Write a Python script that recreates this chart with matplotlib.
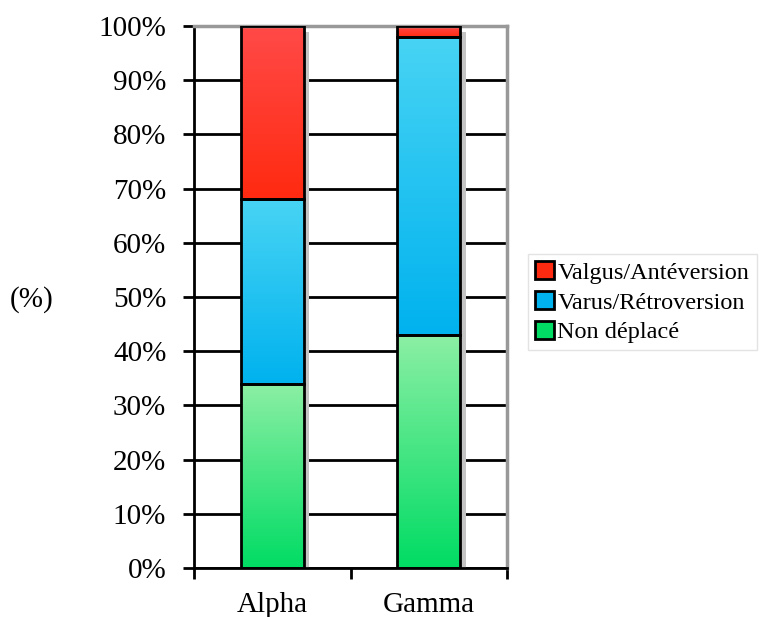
import numpy as np
import matplotlib
matplotlib.use("Agg")
import matplotlib.pyplot as plt
from matplotlib.patches import Patch

plt.rcParams['font.family'] = ['Liberation Serif', 'DejaVu Serif']

categories = ['Alpha', 'Gamma']
non_deplace = [34, 43]
varus = [34, 55]
valgus = [32, 2]

series = [
    ('Non déplacé', non_deplace, '#8CEFA4', '#00DC64'),
    ('Varus/Rétroversion', varus, '#48D4F4', '#00B2EE'),
    ('Valgus/Antéversion', valgus, '#FF4A48', '#FF2A10'),
]

fig = plt.figure(figsize=(7.6, 6.17), dpi=100)
ax = fig.add_axes([0.2553, 0.0794, 0.4118, 0.8785])

x = np.arange(len(categories))
width = 0.4

# ombres des barres (decalees a droite)
totals = np.sum([s[1] for s in series], axis=0)
ax.bar(x + 0.035, totals - 1.2, width, bottom=0, color='#c4c4c4', zorder=1.5)

bottom = np.zeros(len(categories))
for name, vals, c_top, c_bot in series:
    grad = np.linspace(0, 1, 256).reshape(-1, 1)
    cmap = matplotlib.colors.LinearSegmentedColormap.from_list(name, [c_bot, c_top])
    bars = ax.bar(x, vals, width, bottom=bottom, facecolor='none',
                  edgecolor='black', linewidth=2, zorder=3)
    for b in bars:
        x0, y0 = b.get_x(), b.get_y()
        im = ax.imshow(grad, cmap=cmap, origin='lower', aspect='auto',
                       extent=[x0, x0 + b.get_width(), y0, y0 + b.get_height()],
                       zorder=2)
        im.set_clip_path(b)
    bottom += np.array(vals)

ax.set_xlim(-0.5, len(categories) - 0.5)
ax.set_ylim(0, 100)

ax.set_yticks(np.arange(0, 101, 10))
ax.set_yticklabels([f'{v}%' for v in range(0, 101, 10)], fontsize=21)
ax.yaxis.grid(True, color='black', linewidth=2)
ax.set_axisbelow(True)
ax.set_xticks([-0.5, 0.5, 1.5])
ax.set_xticklabels([])
ax.set_xticks(x, minor=True)
ax.set_xticklabels(categories, minor=True, fontsize=21)
ax.tick_params(axis='x', which='minor', length=0, pad=17)
ax.tick_params(axis='x', which='major', length=8, width=2, direction='out')
ax.tick_params(axis='y', length=8, width=2, direction='out', pad=12)

for s in ['left', 'bottom']:
    ax.spines[s].set_linewidth(2)
    ax.spines[s].set_color('black')
for s in ['top', 'right']:
    ax.spines[s].set_linewidth(2.5)
    ax.spines[s].set_color('#999999')

fig.text(0.013, 0.515, '(%)', fontsize=21, ha='left', va='center')

handles = [Patch(facecolor=s[3], edgecolor='black', linewidth=2, label=s[0])
           for s in reversed(series)]
leg = fig.legend(handles=handles, loc='center left', bbox_to_anchor=(0.695, 0.51),
                 fontsize=17.5, frameon=True, fancybox=False, handlelength=0.75,
                 handleheight=0.75, handletextpad=0.15, labelspacing=0.3,
                 borderpad=0.3, borderaxespad=0)
leg.get_frame().set_edgecolor('#dddddd')
leg.get_frame().set_linewidth(1)

plt.savefig('out.png', dpi=100)
plt.close()
